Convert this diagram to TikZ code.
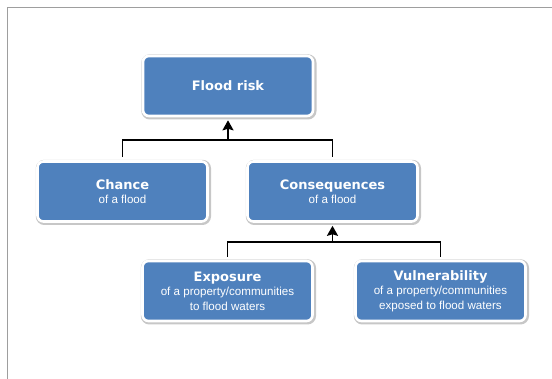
\documentclass[tikz,border=0pt]{standalone}
\usepackage{fontspec}
\setmainfont{Liberation Sans}
\newfontfamily\headfont{DejaVu Sans}
\usetikzlibrary{arrows.meta, calc, positioning}
\definecolor{boxBlue}{HTML}{4F81BD}
\definecolor{frameGray}{gray}{0.62}
\definecolor{haloGray}{gray}{0.78}

\tikzset{
  riskbox/.style={rectangle, rounded corners=6pt, fill=boxBlue, draw=white, line width=2.6pt,
    minimum width=170pt, minimum height=60pt, align=center, text=white, inner sep=2pt,
    font=\fontsize{11.6}{14.5}\selectfont,
    preaction={draw=haloGray, line width=5.2pt, transform canvas={xshift=0.9pt, yshift=-0.9pt}}},
  link/.style={line width=1.9pt, black},
  tip/.style={-{Stealth[length=10pt, width=11pt, inset=1.5pt]}, shorten >=3pt}
}
\newcommand{\boxtitle}[1]{{\headfont\bfseries\fontsize{13}{16.5}\selectfont #1}}

\begin{document}
\begin{tikzpicture}[x=1pt, y=1pt]
    \useasboundingbox (0,0) rectangle (552,379);
    \draw[frameGray, line width=1.3pt] (7.7,0) |- (552,371.7);

    % Boxes
    \node[riskbox] (risk) at (228,293) {\boxtitle{Flood risk}};
    \node[riskbox] (chance) at (122.5,187.5) {\boxtitle{Chance}\\of a flood};
    \node[riskbox] (conseq) at (332.5,187.5) {\boxtitle{Consequences}\\of a flood};
    \node[riskbox] (expo) at (227.5,88) {\boxtitle{Exposure}\\of a property/communities\\to flood waters};
    \node[riskbox] (vuln) at (440.5,88) {\boxtitle{Vulnerability}\\of a property/communities\\exposed to flood waters};

    % Links
    \coordinate (j1) at ($(risk.south)+(0,-23)$);
    \draw[link] ([yshift=3pt]chance.north) |- (j1) -| ([yshift=3pt]conseq.north);
    \draw[link, tip] (j1) -- (risk.south);

    \coordinate (j2) at ($(conseq.south)+(0,-19.5)$);
    \draw[link] ([yshift=3pt]expo.north) |- (j2) -| ([yshift=3pt]vuln.north);
    \draw[link, tip] (j2) -- (conseq.south);
\end{tikzpicture}
\end{document}
